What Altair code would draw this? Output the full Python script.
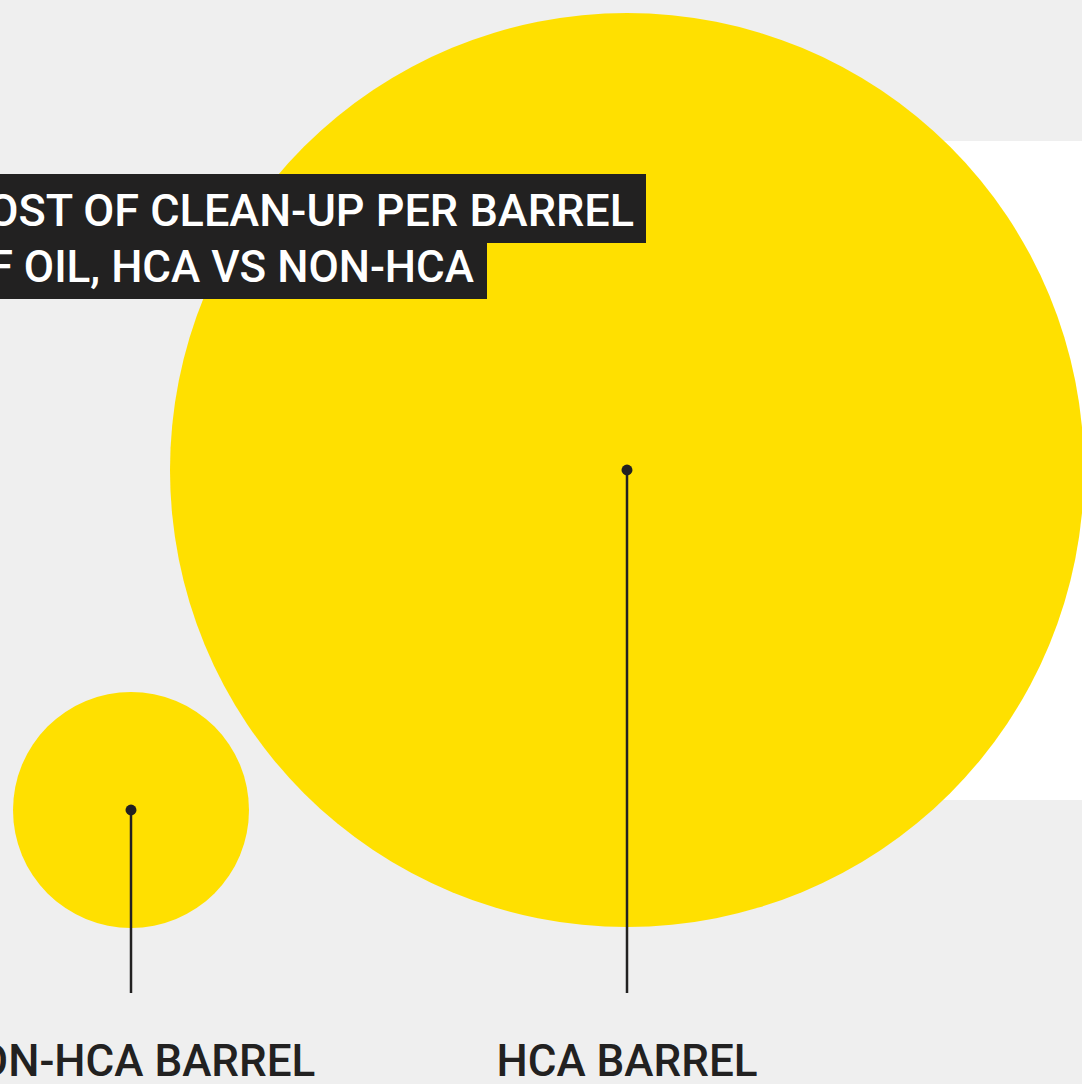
import altair as alt
import pandas as pd

# Clean-up cost per barrel, relative to a non-HCA barrel (circle area is proportional)
categories = ["NON-HCA BARREL", "HCA BARREL"]
relative_cost = [1.0, 15.0]

title_lines = ["COST OF CLEAN-UP PER BARREL", "OF OIL, HCA VS NON-HCA"]

# Layout (pixel space of the canvas)
W, H = 1082, 1084
centre_x = [131, 627]
centre_y = [810, 470]
leader_end = 993
label_baseline = 1076
max_diameter = 914

YELLOW = "#FFE000"
INK = "#222121"
BG = "#EFEFEF"
FONT = "Roboto"

xs = alt.Scale(domain=[0, W], range=[0, W])
ys = alt.Scale(domain=[0, H], range=[0, H])

bubbles = pd.DataFrame({
    "category": categories,
    "cost": relative_cost,
    "cx": centre_x,
    "cy": centre_y,
    "end": [leader_end] * len(categories),
    "ly": [label_baseline] * len(categories),
})

panel = pd.DataFrame({"x": [900], "x2": [W], "y": [141], "y2": [800]})

title_boxes = pd.DataFrame({
    "x": [0, 0], "x2": [646, 487], "y": [174, 243], "y2": [243, 299],
})
title_anchor_x = [634, 474]
title_baseline = [226, 282]
title_size = [45, 44]

X = lambda f: alt.X(f, type="quantitative", scale=xs, axis=None)
Y = lambda f: alt.Y(f, type="quantitative", scale=ys, axis=None)

white_panel = alt.Chart(panel).mark_rect(color="white").encode(
    x=X("x"), x2="x2", y=Y("y"), y2="y2"
)

circles = alt.Chart(bubbles).mark_circle(color=YELLOW, opacity=1).encode(
    x=X("cx"), y=Y("cy"),
    size=alt.Size("cost:Q", scale=alt.Scale(domain=[0, max(relative_cost)],
                                            range=[0, max_diameter ** 2]),
                  legend=None),
)

leaders = alt.Chart(bubbles).mark_rule(color=INK, strokeWidth=2.5).encode(
    x=X("cx"), y=Y("cy"), y2="end"
)

dots = alt.Chart(bubbles).mark_circle(color=INK, opacity=1, size=120).encode(
    x=X("cx"), y=Y("cy")
)

labels = alt.Chart(bubbles).mark_text(
    color=INK, font=FONT, fontSize=44, fontWeight=500, align="center",
    baseline="alphabetic",
).encode(x=X("cx"), y=Y("ly"), text="category:N")

boxes = alt.Chart(title_boxes).mark_rect(color=INK).encode(
    x=X("x"), x2="x2", y=Y("y"), y2="y2"
)

# Two-line title, each line right-aligned inside its own dark box
title_layers = []
for line, tx, ty, fs in zip(title_lines, title_anchor_x, title_baseline, title_size):
    row = pd.DataFrame({"line": [line], "x": [tx], "y": [ty]})
    title_layers.append(
        alt.Chart(row).mark_text(
            color="white", font=FONT, fontSize=fs, fontWeight=500,
            align="right", baseline="alphabetic",
        ).encode(x=X("x"), y=Y("y"), text="line:N")
    )

chart = alt.layer(
    white_panel, circles, leaders, dots, labels, boxes, *title_layers
).properties(
    width=W, height=H, background=BG, padding=0,
    autosize=alt.AutoSizeParams(type="none"),
).configure_view(stroke=None)

chart.save("out.html", embed_options={"renderer": "svg", "actions": False})
